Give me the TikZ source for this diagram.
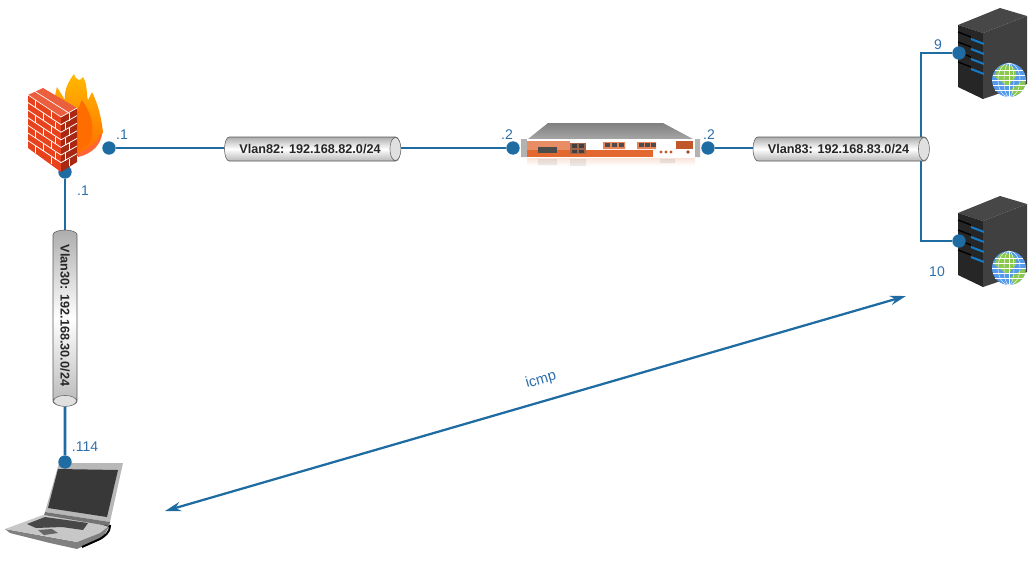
\documentclass[tikz,border=0pt]{standalone}
\usepackage{fontspec}
\setmainfont{Liberation Sans}
\definecolor{LinkBlue}{RGB}{31,108,163}
\definecolor{LabelBlue}{RGB}{45,110,170}
\definecolor{BrickRed}{RGB}{232,66,28}
\definecolor{BrickDark}{RGB}{168,40,18}
\definecolor{RackOrange}{RGB}{226,104,48}
\definecolor{GlobeBlue}{RGB}{84,154,235}
\definecolor{GlobeGreen}{RGB}{140,200,80}
\usetikzlibrary{
  positioning,
  arrows.meta,
  shapes.geometric,
  backgrounds
}
\tikzset{
  % Blue link
  link/.style={
    draw=LinkBlue,
    line width=2.2pt
  },
  % Interface dot
  portdot/.style={
    circle,
    fill=LinkBlue,
    minimum size=10pt,
    inner sep=0pt
  },
  % Address label
  addr/.style={
    font=\fontsize{10.5}{12}\selectfont,
    text=LabelBlue,
    inner sep=0pt
  },
  % Vlan pipe
  vlanpipe/.style={
    cylinder,
    draw=black!65,
    thin,
    aspect=1,
    minimum height=132pt,
    minimum width=18pt,
    inner sep=0pt,
    top color=black!32,
    bottom color=black!28,
    middle color=white,
    text=black!85,
    font=\fontsize{9.5}{11}\selectfont\bfseries
  },
  % Open end of a pipe
  pipeend/.style={
    draw=black!60,
    thin,
    fill=black!12
  },
  % Server with globe
  serverbox/.pic={
    \fill[black!72] (0,17) -- (42,0) -- (69,8) -- (25,25) -- cycle;
    \fill[black!85] (0,17) -- (25,25) -- (25,91) -- (0,79) -- cycle;
    \fill[black!75] (25,25) -- (69,8) -- (69,76) -- (25,91) -- cycle;
    \foreach \i in {0,1,2,3} {
      \draw[black, line width=1pt] (0,{24+10*\i}) -- (13,{29+10*\i});
      \draw[cyan!60!blue, line width=1.5pt] (13,{31+10*\i}) -- (26,{36+10*\i});
    }
    \fill[GlobeBlue] (51,72) circle (17);
    \begin{scope}
      \clip (51,72) circle (17);
      \fill[GlobeGreen] (42,58) .. controls (52,55) and (60,60) .. (58,69) .. controls (52,74) and (52,80) .. (46,76) -- (36,68) -- cycle;
      \fill[GlobeGreen] (52,82) -- (66,72) -- (69,82) -- (57,90) -- cycle;
    \end{scope}
    \foreach \y in {-10,-5,0,5,10} {
      \draw[white, line width=0.3pt] ({51-sqrt(289-\y*\y)},{72+\y}) -- ({51+sqrt(289-\y*\y)},{72+\y});
    }
    \foreach \w in {5,11} {
      \draw[white, line width=0.3pt] (51,72) ellipse ({\w} and 17);
    }
    \draw[white, line width=0.3pt] (51,55) -- (51,89);
  }
}
\begin{document}
\begin{tikzpicture}[x=0.75pt, y=-0.75pt]
  \useasboundingbox (0,0) rectangle (1031,572);
  \node[portdot] (fwSouth) at (65,172) {};
  % Flames
  \shade[top color=orange!55!yellow, bottom color=orange!85!red] (62,155) .. controls (52,130) and (52,105) .. (57,87) .. controls (60,92) and (62,95) .. (65,100) .. controls (64,90) and (68,82) .. (74,74) .. controls (76,80) and (80,82) .. (83,77) .. controls (88,85) and (86,95) .. (88,100) -- (92,92) .. controls (98,104) and (101,116) .. (103,132) .. controls (98,146) and (90,152) .. (78,156) -- cycle;
  \fill[red!50!orange!80] (78,153) .. controls (90,148) and (98,142) .. (102,132) .. controls (102,144) and (92,154) .. (78,157) -- cycle;
  \fill[orange!85!red] (72,150) .. controls (70,130) and (76,112) .. (82,100) .. controls (90,112) and (96,125) .. (90,142) .. controls (86,148) and (80,150) .. (72,150) -- cycle;
  % Firewall
  \fill[BrickRed] (28,95) -- (61,117) -- (61,172) -- (28,148) -- cycle;
  \fill[BrickDark] (61,117) -- (77,108) -- (77,162) -- (61,172) -- cycle;
  \fill[BrickRed!85!white] (28,95) -- (43,88) -- (77,108) -- (61,117) -- cycle;
  \foreach \i in {1,...,6} {
    \draw[white, line width=0.6pt] (28,{95+7.6*\i}) -- (61,{117+7.6*\i});
    \draw[white, line width=0.6pt] (61,{117+7.6*\i}) -- (77,{108+7.6*\i});
  }
  \foreach \i/\j in {0/0,1/1,2/0,3/1,4/0,5/1,6/0} {
    \draw[white, line width=0.5pt] ({35+8*\j},{100+7.6*\i+5*\j}) -- ({35+8*\j},{107.6+7.6*\i+5*\j});
    \draw[white, line width=0.5pt] ({51+4*\j},{111+7.6*\i+3*\j}) -- ({51+4*\j},{118.6+7.6*\i+3*\j});
    \draw[white, line width=0.5pt] ({69-4*\j},{113+7.6*\i+2*\j}) -- ({69-4*\j},{120.6+7.6*\i+2*\j});
  }
  \draw[white, line width=0.5pt] (28,95) -- (61,117) -- (77,108);
  \draw[white, line width=0.5pt] (35,91.5) -- (69,113);
  % Rack device
  \shade[top color=black!50, bottom color=black!35] (548,123) -- (663,123) -- (693,139) -- (528,139) -- cycle;
  \fill[black!30] (521,139) rectangle (527,157) (695,139) rectangle (700,157);
  \fill[white] (527,139) rectangle (695,157);
  \fill[RackOrange!75] (527,141) rectangle (570,150);
  \fill[RackOrange] (527,150) rectangle (653,157);
  \fill[RackOrange!60!black!80] (570,143) rectangle (586,154);
  \fill[RackOrange!80] (603,142) rectangle (625,149) (637,142) rectangle (656,149);
  \fill[black!70] (538,147) rectangle (557,153);
  \foreach \i in {0,1} {
    \fill[black!75] ({572+7*\i},144) rectangle ({577+7*\i},148);
    \fill[black!75] ({572+7*\i},149.5) rectangle ({577+7*\i},153);
  }
  \foreach \i in {0,1,2} {
    \fill[black!70] ({605+7*\i},143) rectangle ({610+7*\i},146.5);
    \fill[black!70] ({639+6*\i},143) rectangle ({644+6*\i},146.5);
    \fill[RackOrange!85!black] ({661+5*\i},152) circle (1.7);
  }
  \fill[RackOrange!85!black] (676,141) rectangle (693,149);
  \fill[RackOrange!70!black] (688,152) circle (1.8);
  % Reflection
  \shade[top color=RackOrange!18, bottom color=white] (527,158) rectangle (695,166);
  \fill[black, opacity=0.07] (538,159) rectangle (557,165) (570,159) rectangle (586,166) (660,159) rectangle (675,163);
  % Servers
  \pic at (958,8) {serverbox};
  \pic at (958,196) {serverbox};
  % Laptop
  \fill[black!50] (5,529) -- (10,533) -- (50,543) -- (77,549) -- (103,537) -- (110,525) -- (77,542) -- cycle;
  \fill[black!22] (5,529) -- (43,515) -- (90,520) -- (110,525) -- (100,533) -- (77,542) -- (50,537) -- cycle;
  \fill[black!72] (27,524) -- (45,517) -- (88,523) -- (83,530) -- (62,527) -- (36,528) -- cycle;
  \fill[black!60] (38,530) -- (52,529) -- (58,533) -- (44,535) -- cycle;
  \draw[black, line width=1.5pt] (90,520) -- (110,526) .. controls (110,532) and (105,536) .. (100,539) -- (82,547);
  \fill[black!28] (59,463) -- (123,463) -- (110,522) -- (45,512) -- cycle;
  \fill[black!55] (45,512) -- (110,522) -- (109,526) -- (44,515) -- cycle;
  \fill[black!78] (58,469) -- (118,470) -- (107,517) -- (48,508) -- cycle;
  % Interfaces
  \node[portdot] (fwEast) at (109,148) {};
  \node[portdot] (rackWest) at (513,148) {};
  \node[portdot] (rackEast) at (708,148) {};
  \node[portdot] (srvNine) at (959,53) {};
  \node[portdot] (srvTen) at (959,241) {};
  \node[portdot] (lapTop) at (65,462) {};
  % Pipes
  \node[vlanpipe] (vlanA) at (310,149) {Vlan82: 192.168.82.0/24};
  \node[vlanpipe] (vlanB) at (838.5,149) {Vlan83: 192.168.83.0/24};
  \node[vlanpipe, rotate=-90] (vlanC) at (65,315.5) {Vlan30: 192.168.30.0/24};
  \draw[pipeend] ([xshift=-4pt]vlanA.east) ellipse (5.5 and 11.5);
  \draw[pipeend] ([xshift=-4pt]vlanB.east) ellipse (5.5 and 11.5);
  \draw[pipeend] ([yshift=4pt]vlanC.east) ellipse (11.5 and 5.5);
  \coordinate (busTop) at (921,148);
  % Connectors
  \begin{pgfonlayer}{background}
    \draw[link] (fwEast) -- (fwEast -| vlanA.west);
    \draw[link] (fwEast -| vlanA.east) -- (rackWest);
    \draw[link] (rackEast) -- (rackEast -| vlanB.west);
    \draw[link] (fwSouth) -- (vlanC);
    \draw[link] (vlanC) -- (lapTop);
    \draw[link] (srvNine) -| (busTop);
    \draw[link] (srvTen) -| (busTop);
  \end{pgfonlayer}
  % Labels
  \node[addr] (lblFwEast) at (122,135) {.1};
  \node[addr] (lblFwSouth) at (83,191) {.1};
  \node[addr] (lblRackWest) at (507,135) {.2};
  \node[addr] (lblRackEast) at (709,135) {.2};
  \node[addr] (lblNine) at (938,45) {9};
  \node[addr] (lblTen) at (937,272) {10};
  \node[addr] (lblLap) at (85,447) {.114};
  % Test traffic
  \coordinate (icmpA) at (165,511);
  \coordinate (icmpB) at (906,296);
  \draw[draw=LinkBlue, line width=1.7pt, {Stealth[length=12pt,width=7pt]}-{Stealth[length=12pt,width=7pt]}] (icmpA) -- (icmpB);
  \node[addr, rotate=16, font=\fontsize{11}{12}\selectfont] (lblIcmp) at (541,380) {icmp};
\end{tikzpicture}
\end{document}
